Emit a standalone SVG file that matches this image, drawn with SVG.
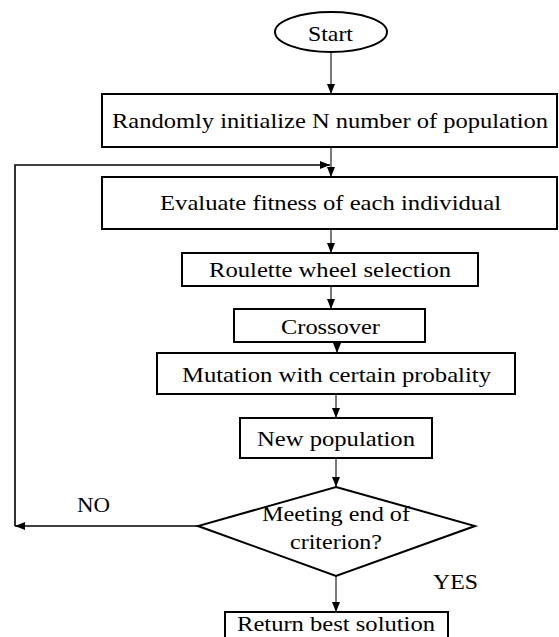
<svg xmlns="http://www.w3.org/2000/svg" width="559" height="637" viewBox="0 0 559 637">
<defs>
<marker id="ah" viewBox="0 0 10 8" refX="10" refY="4" markerWidth="10" markerHeight="8" markerUnits="userSpaceOnUse" orient="auto">
<path d="M0,0 L10,4 L0,8 Z" fill="#000"/>
</marker>
<style>
.box{fill:#fff;stroke:#000;stroke-width:2}
.t{font-family:"Liberation Serif","Times New Roman",Times,serif;font-size:21px;fill:#000}
.c{fill:none;stroke:#222;stroke-width:1.2}
.fb{fill:none;stroke:#000;stroke-width:1.6}
</style>
</defs>
<rect width="559" height="637" fill="#fff"/>
<g id="connectors">
<line class="c" x1="331" y1="52" x2="331" y2="94" marker-end="url(#ah)"/>
<line class="c" x1="331" y1="147" x2="331" y2="177" marker-end="url(#ah)"/>
<line class="c" x1="331" y1="229" x2="331" y2="253" marker-end="url(#ah)"/>
<line class="c" x1="331" y1="286" x2="331" y2="309" marker-end="url(#ah)"/>
<line class="c" x1="337" y1="342" x2="337" y2="353" marker-end="url(#ah)"/>
<line class="c" x1="336" y1="394" x2="336" y2="418" marker-end="url(#ah)"/>
<line class="c" x1="336" y1="458" x2="336" y2="487" marker-end="url(#ah)"/>
<line class="c" x1="336" y1="576" x2="336" y2="612" marker-end="url(#ah)"/>
<polyline class="fb" points="198,526 15,526" marker-end="url(#ah)"/>
<polyline class="fb" points="15,526 15,165 330,165" marker-end="url(#ah)"/>
</g>
<g id="start">
<ellipse class="box" cx="331" cy="32" rx="56" ry="20"/>
<text class="t" x="308" y="41" textLength="45" lengthAdjust="spacingAndGlyphs">Start</text>
</g>
<g id="init">
<rect class="box" x="102" y="94" width="455" height="53"/>
<text class="t" x="112" y="128" textLength="436" lengthAdjust="spacingAndGlyphs">Randomly initialize N number of population</text>
</g>
<g id="evaluate">
<rect class="box" x="102" y="177" width="455" height="52"/>
<text class="t" x="160" y="210" textLength="341" lengthAdjust="spacingAndGlyphs">Evaluate fitness of each individual</text>
</g>
<g id="selection">
<rect class="box" x="182" y="253" width="296" height="33"/>
<text class="t" x="209" y="277" textLength="242" lengthAdjust="spacingAndGlyphs">Roulette wheel selection</text>
</g>
<g id="crossover">
<rect class="box" x="234" y="309" width="191" height="33"/>
<text class="t" x="281" y="334" textLength="99" lengthAdjust="spacingAndGlyphs">Crossover</text>
</g>
<g id="mutation">
<rect class="box" x="157" y="353" width="358" height="41"/>
<text class="t" x="182" y="382" textLength="309" lengthAdjust="spacingAndGlyphs">Mutation with certain probality</text>
</g>
<g id="newpop">
<rect class="box" x="240" y="418" width="192" height="40"/>
<text class="t" x="257" y="446" textLength="158" lengthAdjust="spacingAndGlyphs">New population</text>
</g>
<g id="decision">
<polygon class="box" points="336,487 475,526 336,576 198,526"/>
<text class="t" x="262" y="521" textLength="148" lengthAdjust="spacingAndGlyphs">Meeting end of</text>
<text class="t" x="290" y="549" textLength="92" lengthAdjust="spacingAndGlyphs">criterion?</text>
</g>
<g id="labels">
<text class="t" x="77" y="512" textLength="33" lengthAdjust="spacingAndGlyphs">NO</text>
<text class="t" x="433" y="589" textLength="45" lengthAdjust="spacingAndGlyphs">YES</text>
</g>
<g id="result">
<rect class="box" x="225" y="612" width="223" height="40"/>
<text class="t" x="237" y="631" font-size="20" textLength="198" lengthAdjust="spacingAndGlyphs">Return best solution</text>
</g>
</svg>
